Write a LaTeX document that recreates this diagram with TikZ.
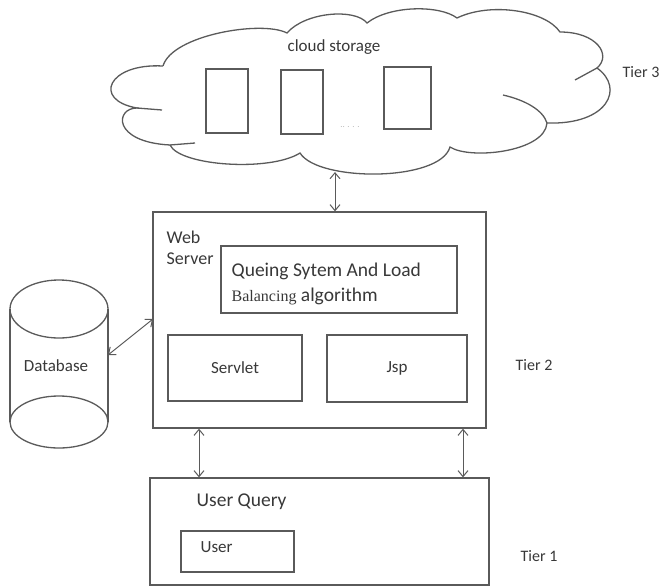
\documentclass[tikz,border=0pt]{standalone}
\usepackage{fontspec}
\setmainfont{Carlito}
\newfontfamily\timesf{Liberation Serif}
\usetikzlibrary{arrows.meta}
\definecolor{ln}{HTML}{5A5A5A}
\definecolor{tx}{HTML}{383838}
\begin{document}
\begin{tikzpicture}[x=1pt,y=-1pt,
  line width=1.3pt,
  box/.style={draw=ln, line width=1.3pt, rectangle, inner sep=0pt},
  lbl/.style={text=tx, inner sep=0pt, anchor=west},
  biarrow/.style={draw=ln, line width=1pt, {Straight Barb[length=6pt,width=10pt]}-{Straight Barb[length=6pt,width=10pt]}},
  cloudline/.style={draw=ln, line width=1.3pt}]
\useasboundingbox (0,0) rectangle (662,587);

% cloud
\draw[cloudline] (163,66)
 .. controls (172,35) and (262,20) .. (287,33)
 .. controls (305,12) and (355,8) .. (367,23)
 .. controls (390,5) and (440,5) .. (457,18)
 .. controls (490,2) and (545,10) .. (560,32)
 .. controls (597,32) and (612,55) .. (597,68)
 .. controls (625,88) and (608,125) .. (547,123)
 .. controls (545,152) and (470,160) .. (450,147)
 .. controls (440,182) and (318,182) .. (300,153)
 .. controls (270,172) and (180,166) .. (170,145)
 .. controls (112,142) and (115,108) .. (137,108)
 .. controls (92,100) and (108,63) .. (163,66);
\draw[cloudline] (503,95) .. controls (525,100) and (543,110) .. (547,123);
\draw[cloudline] (597,68) -- (575,80);
\draw[cloudline] (137,108) -- (162,110);
\draw[cloudline] (170,145) -- (195,143);
\coordinate (cloudbot) at (335,172);
\node[lbl] (cs) at (287,47) {\fontsize{17}{19}\selectfont cloud storage};
\node[box, minimum width=42pt, minimum height=64pt] (c1) at (227,101) {};
\node[box, minimum width=42pt, minimum height=64pt] (c2) at (302,102) {};
\node[box, minimum width=47pt, minimum height=62pt] (c3) at (407.5,98) {};
\node[text=gray!55, inner sep=0pt] (dots) at (350,127) {\fontsize{9}{9}\selectfont .. . . .};
\node[lbl] (t3) at (622,72) {\fontsize{16}{18}\selectfont Tier 3};

% web server
\node[box, minimum width=333pt, minimum height=216pt] (ws) at (319.5,320) {};
\node[lbl] (wst1) at (166,237) {\fontsize{18}{20}\selectfont Web};
\node[lbl] (wst2) at (166,259) {\fontsize{18}{20}\selectfont Server};
\node[box, minimum width=236pt, minimum height=67pt] (q) at (339,279.5) {};
\node[lbl] (q1) at (231,271) {\fontsize{19.5}{22}\selectfont Queing Sytem And Load};
\node[lbl] (q2) at (231,296) {\fontsize{19.5}{22}\selectfont {\fontsize{16}{18}\selectfont\timesf Balancing} algorithm};
\node[box, minimum width=134pt, minimum height=66pt] (sv) at (235,368) {};
\node[text=tx, inner sep=0pt] at (sv) {\fontsize{17}{19}\selectfont Servlet};
\node[box, minimum width=140pt, minimum height=67pt] (jsp) at (397,368.5) {};
\node[text=tx, inner sep=0pt] at (jsp) {\fontsize{17}{19}\selectfont Jsp};
\node[lbl] (t2) at (515,365) {\fontsize{16}{18}\selectfont Tier 2};

% database
\draw[ln, line width=1.3pt] (59,309) ellipse [x radius=49pt, y radius=29pt];
\draw[ln, line width=1.3pt] (59,422) ellipse [x radius=49pt, y radius=26pt];
\draw[ln, line width=1.3pt] (10,309) -- (10,422) (108,309) -- (108,422);
\node[text=tx, inner sep=0pt] (db) at (56,366) {\fontsize{17}{19}\selectfont Database};
\coordinate (dbr) at (108,355);
\coordinate (wsl) at (153,319);

% user query
\node[box, minimum width=339pt, minimum height=107pt] (uq) at (319.5,531.5) {};
\node[lbl] (uqt) at (196,502) {\fontsize{19.5}{22}\selectfont User Query};
\node[box, minimum width=113pt, minimum height=41pt] (u) at (237.5,551.5) {};
\node[lbl] (ut) at (200,547) {\fontsize{17}{19}\selectfont User};
\node[lbl] (t1) at (520,556) {\fontsize{16}{18}\selectfont Tier 1};

% connectors
\draw[biarrow] (cloudbot) -- (ws.north -| cloudbot);
\draw[biarrow] (dbr) -- (wsl);
\draw[biarrow] (ws.south -| 199,0) -- (uq.north -| 199,0);
\draw[biarrow] (ws.south -| 463,0) -- (uq.north -| 463,0);
\end{tikzpicture}
\end{document}
